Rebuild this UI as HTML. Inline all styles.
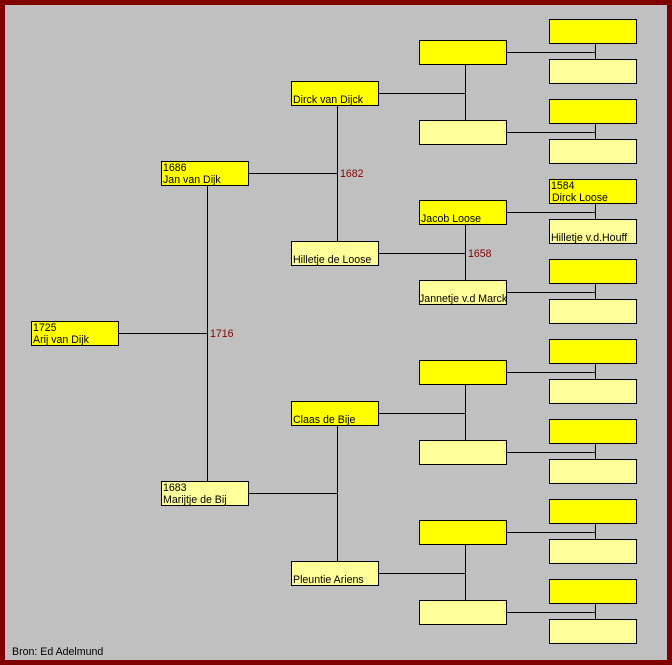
<!DOCTYPE html>
<html><head><style>
body{margin:0;background:#c0c0c0;}
svg{display:block;font-family:"Liberation Sans",Arial,sans-serif;font-size:10.6px;}
.m{fill:#ffff00;stroke:#000;stroke-width:1}
.f{fill:#ffff99;stroke:#000;stroke-width:1}
line{stroke:#000;stroke-width:1}
.y{fill:#800000}
</style></head><body>
<svg width="672" height="665" viewBox="0 0 672 665">
<rect x="2.5" y="2.5" width="667" height="660" fill="#c0c0c0" stroke="#800000" stroke-width="5"/>
<g shape-rendering="crispEdges">
<line x1="119" y1="333.5" x2="207" y2="333.5"/><line x1="207.5" y1="186" x2="207.5" y2="481"/>
<line x1="249" y1="173.5" x2="337" y2="173.5"/><line x1="337.5" y1="106" x2="337.5" y2="241"/>
<line x1="249" y1="493.5" x2="337" y2="493.5"/><line x1="337.5" y1="426" x2="337.5" y2="561"/>
<line x1="379" y1="93.5" x2="465" y2="93.5"/><line x1="465.5" y1="65" x2="465.5" y2="120"/>
<line x1="379" y1="253.5" x2="465" y2="253.5"/><line x1="465.5" y1="225" x2="465.5" y2="280"/>
<line x1="379" y1="413.5" x2="465" y2="413.5"/><line x1="465.5" y1="385" x2="465.5" y2="440"/>
<line x1="379" y1="573.5" x2="465" y2="573.5"/><line x1="465.5" y1="545" x2="465.5" y2="600"/>
<line x1="507" y1="52.5" x2="595" y2="52.5"/><line x1="595.5" y1="44" x2="595.5" y2="59"/>
<line x1="507" y1="132.5" x2="595" y2="132.5"/><line x1="595.5" y1="124" x2="595.5" y2="139"/>
<line x1="507" y1="212.5" x2="595" y2="212.5"/><line x1="595.5" y1="204" x2="595.5" y2="219"/>
<line x1="507" y1="292.5" x2="595" y2="292.5"/><line x1="595.5" y1="284" x2="595.5" y2="299"/>
<line x1="507" y1="372.5" x2="595" y2="372.5"/><line x1="595.5" y1="364" x2="595.5" y2="379"/>
<line x1="507" y1="452.5" x2="595" y2="452.5"/><line x1="595.5" y1="444" x2="595.5" y2="459"/>
<line x1="507" y1="532.5" x2="595" y2="532.5"/><line x1="595.5" y1="524" x2="595.5" y2="539"/>
<line x1="507" y1="612.5" x2="595" y2="612.5"/><line x1="595.5" y1="604" x2="595.5" y2="619"/>
<rect class="m" x="31.5" y="321.5" width="87" height="24"/>
<rect class="m" x="161.5" y="161.5" width="87" height="24"/>
<rect class="f" x="161.5" y="481.5" width="87" height="24"/>
<rect class="m" x="291.5" y="81.5" width="87" height="24"/>
<rect class="f" x="291.5" y="241.5" width="87" height="24"/>
<rect class="m" x="291.5" y="401.5" width="87" height="24"/>
<rect class="f" x="291.5" y="561.5" width="87" height="24"/>
<rect class="m" x="419.5" y="40.5" width="87" height="24"/>
<rect class="f" x="419.5" y="120.5" width="87" height="24"/>
<rect class="m" x="419.5" y="200.5" width="87" height="24"/>
<rect class="f" x="419.5" y="280.5" width="87" height="24"/>
<rect class="m" x="419.5" y="360.5" width="87" height="24"/>
<rect class="f" x="419.5" y="440.5" width="87" height="24"/>
<rect class="m" x="419.5" y="520.5" width="87" height="24"/>
<rect class="f" x="419.5" y="600.5" width="87" height="24"/>
<rect class="m" x="549.5" y="19.5" width="87" height="24"/>
<rect class="f" x="549.5" y="59.5" width="87" height="24"/>
<rect class="m" x="549.5" y="99.5" width="87" height="24"/>
<rect class="f" x="549.5" y="139.5" width="87" height="24"/>
<rect class="m" x="549.5" y="179.5" width="87" height="24"/>
<rect class="f" x="549.5" y="219.5" width="87" height="24"/>
<rect class="m" x="549.5" y="259.5" width="87" height="24"/>
<rect class="f" x="549.5" y="299.5" width="87" height="24"/>
<rect class="m" x="549.5" y="339.5" width="87" height="24"/>
<rect class="f" x="549.5" y="379.5" width="87" height="24"/>
<rect class="m" x="549.5" y="419.5" width="87" height="24"/>
<rect class="f" x="549.5" y="459.5" width="87" height="24"/>
<rect class="m" x="549.5" y="499.5" width="87" height="24"/>
<rect class="f" x="549.5" y="539.5" width="87" height="24"/>
<rect class="m" x="549.5" y="579.5" width="87" height="24"/>
<rect class="f" x="549.5" y="619.5" width="87" height="24"/>
</g>
<text x="33" y="331">1725</text><text x="33" y="343">Arij van Dijk</text>
<text x="163" y="171">1686</text><text x="163" y="183">Jan van Dijk</text>
<text x="163" y="491">1683</text><text x="163" y="503">Marijtje de Bij</text>
<text x="293" y="103">Dirck van Dijck</text>
<text x="293" y="263">Hilletje de Loose</text>
<text x="293" y="423">Claas de Bije</text>
<text x="293" y="583">Pleuntie Ariens</text>
<text x="421" y="222">Jacob Loose</text>
<text x="419" y="302">Jannetje v.d Marck</text>
<text x="551" y="189">1584</text><text x="552" y="201">Dirck Loose</text>
<text x="551" y="241">Hilletje v.d.Houff</text>
<text class="y" x="210" y="337">1716</text>
<text class="y" x="340" y="177">1682</text>
<text class="y" x="468" y="257">1658</text>
<text x="12" y="655">Bron: Ed Adelmund</text>
</svg>
</body></html>
